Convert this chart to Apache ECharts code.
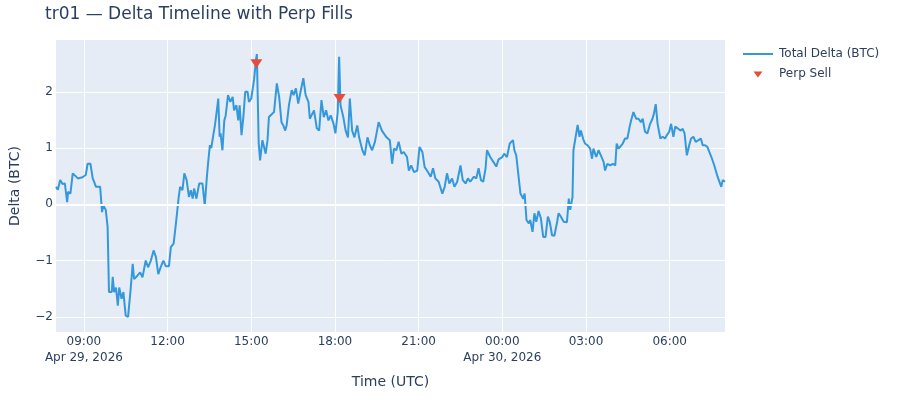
<!DOCTYPE html>
<html>
<head>
<meta charset="utf-8">
<script src="https://cdn.jsdelivr.net/npm/echarts@6/dist/echarts.min.js"></script>
<style>
html,body{margin:0;padding:0;background:#fff;}
#chart{width:900px;height:400px;}
</style>
</head>
<body>
<div id="chart"></div>
<script>
// Minutes since 2026-04-29 08:00 UTC, and total delta (BTC)
const deltaPoints = [
[0,0.31],[4,0.26],[9,0.43],[14,0.36],[19,0.37],[24,0.04],[26,0.22],[31,0.19],[36,0.55],[39,0.56],
[47,0.46],[50,0.48],[57,0.48],[64,0.52],[68,0.72],[74,0.72],[79,0.46],[82,0.40],[86,0.31],[95,0.31],
[99,-0.14],[102,-0.02],[107,-0.10],[111,-0.40],[113,-1.17],[114,-1.56],[120,-1.56],[122,-1.29],[125,-1.56],[129,-1.48],
[133,-1.80],[136,-1.48],[141,-1.68],[145,-1.56],[148,-1.82],[150,-1.98],[155,-2.0],[160,-1.56],[165,-1.06],[168,-1.33],
[175,-1.27],[181,-1.21],[186,-1.30],[193,-1.0],[198,-1.12],[204,-1.0],[210,-0.82],[215,-0.94],[220,-1.24],[226,-1.10],
[231,-1.0],[236,-1.10],[243,-1.10],[247,-0.76],[253,-0.70],[258,-0.34],[261,-0.34],[264,0.13],[267,0.31],[272,0.25],
[276,0.55],[281,0.43],[286,0.13],[290,0.25],[294,0.10],[297,0.28],[302,0.10],[308,0.37],[315,0.37],[320,-0.02],
[324,0.43],[327,0.72],[331,1.05],[334,1.00],[339,1.26],[342,1.41],[346,1.67],[349,1.88],[352,1.20],[354,1.26],
[358,0.96],[362,1.49],[365,1.58],[370,1.94],[375,1.82],[380,1.91],[383,1.67],[388,1.76],[392,1.49],[395,1.76],
[399,1.23],[403,1.55],[407,2.0],[412,2.0],[415,1.82],[420,1.88],[426,2.21],[430,2.56],[432,2.67],[436,1.08],
[439,0.78],[444,1.14],[447,1.16],[451,0.90],[455,1.14],[458,1.55],[462,1.58],[469,1.64],[475,2.15],[480,1.91],
[485,1.46],[489,1.40],[493,1.31],[496,1.40],[501,1.76],[507,2.03],[511,1.94],[516,2.06],[521,1.79],[526,2.0],
[532,2.24],[537,1.94],[543,1.82],[546,1.52],[555,1.67],[561,1.35],[566,1.31],[571,1.85],[576,1.55],[581,1.67],
[586,1.49],[591,1.58],[597,1.43],[601,1.26],[606,1.64],[609,2.62],[612,1.76],[618,1.55],[623,1.31],[628,1.19],
[632,1.88],[637,1.31],[642,1.19],[648,1.40],[652,1.19],[659,0.96],[664,0.87],[670,1.19],[675,1.05],[680,0.96],
[686,1.11],[690,1.14],[694,1.46],[701,1.31],[705,1.28],[711,1.19],[718,1.14],[723,0.72],[727,0.99],[732,0.96],
[737,1.11],[743,0.90],[748,0.93],[755,0.84],[759,0.60],[764,0.69],[770,0.57],[777,0.60],[782,1.02],[788,0.93],
[793,0.66],[798,0.60],[806,0.49],[811,0.64],[816,0.46],[823,0.40],[831,0.19],[836,0.31],[841,0.55],[846,0.37],
[852,0.46],[857,0.31],[863,0.40],[870,0.69],[875,0.43],[881,0.37],[886,0.46],[891,0.40],[899,0.49],[904,0.46],
[909,0.64],[914,0.43],[919,0.40],[924,0.64],[927,0.96],[934,0.84],[941,0.75],[947,0.67],[952,0.80],[960,0.84],
[964,0.90],[970,0.84],[976,1.08],[983,1.14],[986,0.96],[990,0.87],[995,0.49],[999,0.19],[1005,0.10],[1008,0.19],
[1012,-0.28],[1017,-0.34],[1020,-0.28],[1025,-0.49],[1029,-0.16],[1033,-0.31],[1038,-0.12],[1043,-0.25],[1048,-0.58],[1053,-0.58],
[1058,-0.22],[1062,-0.31],[1067,-0.55],[1072,-0.56],[1078,-0.31],[1081,-0.16],[1086,-0.22],[1092,-0.31],[1099,-0.32],[1103,0.10],
[1106,-0.10],[1111,0.13],[1113,0.96],[1117,0.99],[1122,1.41],[1126,1.20],[1129,1.31],[1134,1.16],[1138,1.08],[1143,1.05],
[1149,0.99],[1153,0.81],[1156,0.99],[1162,0.84],[1167,0.96],[1172,0.87],[1178,0.75],[1181,0.60],[1186,0.72],[1192,0.69],
[1198,0.72],[1203,0.69],[1206,1.08],[1210,0.99],[1214,0.96],[1219,1.08],[1224,1.17],[1229,1.17],[1234,1.38],[1237,1.49],
[1242,1.64],[1248,1.52],[1253,1.52],[1258,1.46],[1262,1.52],[1267,1.29],[1272,1.26],[1278,1.43],[1283,1.52],[1286,1.61],
[1290,1.78],[1294,1.43],[1300,1.17],[1305,1.20],[1310,1.17],[1314,1.23],[1319,1.29],[1323,1.43],[1328,1.20],[1332,1.38],
[1337,1.35],[1343,1.31],[1348,1.34],[1352,1.26],[1357,0.87],[1362,1.05],[1366,1.17],[1371,1.20],[1376,1.11],[1382,1.14],
[1387,1.17],[1391,1.05],[1396,1.05],[1401,1.02],[1405,0.99],[1411,0.81],[1416,0.69],[1420,0.66],[1423,0.49],[1427,0.52],
[1431,0.31],[1434,0.43],[1439,0.40]
];

// Perp sell fills
const perpSellTimes = [431, 610];
const perpSellDelta = [2.50, 1.88];

// Axis ticks
const xTickMinutes = [60, 240, 420, 600, 780, 960, 1140, 1320];
const xTickLabels = ['09:00\nApr 29, 2026', '12:00', '15:00', '18:00', '21:00', '00:00\nApr 30, 2026', '03:00', '06:00'];
const yTickValues = [-2, -1, 0, 1, 2];

const textColor = '#2a3f5f';
const font = '"DejaVu Sans", Verdana, sans-serif';

const chart = echarts.init(document.getElementById('chart'), null, {renderer: 'canvas'});
chart.setOption({
  animation: false,
  backgroundColor: '#ffffff',
  textStyle: {fontFamily: font, color: textColor},
  title: {
    text: 'tr01 — Delta Timeline with Perp Fills',
    left: 45, top: 6, padding: 0,
    textStyle: {fontFamily: font, fontSize: 17, fontWeight: 'normal', color: textColor}
  },
  legend: {
    orient: 'vertical',
    left: 743, top: 47, padding: 0,
    itemGap: 6,
    itemWidth: 30, itemHeight: 14,
    textStyle: {fontFamily: font, fontSize: 12, color: textColor, padding: [0, 0, 0, 1]},
    data: [
      {name: 'Total Delta (BTC)', icon: 'path://M0,0 L0.01,0 Z M30,14 L30.01,14 Z M0,6.1 L30,6.1 L30,7.9 L0,7.9 Z'},
      {name: 'Perp Sell', icon: 'path://M0,0 L0.01,0 Z M30,14 L30.01,14 Z M10.5,4.5 L19.5,4.5 L15,10.5 Z'}
    ]
  },
  grid: {left: 55, right: 175, top: 40, bottom: 68, backgroundColor: '#E5ECF6', show: true, borderWidth: 0},
  xAxis: {
    type: 'value',
    min: 0, max: 1439,
    name: 'Time (UTC)',
    nameLocation: 'middle',
    nameGap: 43,
    nameTextStyle: {fontFamily: font, fontSize: 14, color: textColor},
    axisLine: {show: false},
    axisTick: {show: false, customValues: xTickMinutes},
    splitLine: {show: true, lineStyle: {color: '#ffffff', width: 1}},
    axisLabel: {
      customValues: xTickMinutes,
      fontFamily: font, fontSize: 12, color: textColor, margin: 2, lineHeight: 16,
      formatter: function (v) { const i = xTickMinutes.indexOf(v); return i >= 0 ? xTickLabels[i] : ''; }
    }
  },
  yAxis: {
    type: 'value',
    min: -2.27, max: 2.92,
    name: 'Delta (BTC)',
    nameLocation: 'middle',
    nameGap: 34,
    nameTextStyle: {fontFamily: font, fontSize: 14, color: textColor},
    axisLine: {show: false},
    axisTick: {show: false, customValues: yTickValues},
    splitLine: {show: true, lineStyle: {color: '#ffffff', width: 1}},
    axisLabel: {
      customValues: yTickValues,
      fontFamily: font, fontSize: 12, color: textColor, margin: 3,
      formatter: function (v) { return String(v).replace('-', '\u2212'); }
    }
  },
  series: [
    {
      name: 'zero', type: 'line', data: [], z: 1, silent: true,
      markLine: {
        silent: true, symbol: 'none', label: {show: false},
        lineStyle: {color: '#ffffff', width: 2, type: 'solid'},
        data: [{yAxis: 0}]
      }
    },
    {
      name: 'Total Delta (BTC)', type: 'line', z: 3,
      data: deltaPoints,
      showSymbol: false, symbol: 'none',
      lineStyle: {color: '#3498db', width: 2},
      itemStyle: {color: '#3498db'}
    },
    {
      name: 'Perp Sell', type: 'scatter', z: 4,
      data: perpSellTimes.map((t, i) => [t, perpSellDelta[i]]),
      symbol: 'triangle', symbolRotate: 180, symbolSize: [12, 9],
      itemStyle: {color: '#e74c3c', opacity: 1}
    }
  ]
});
</script>
</body>
</html>
